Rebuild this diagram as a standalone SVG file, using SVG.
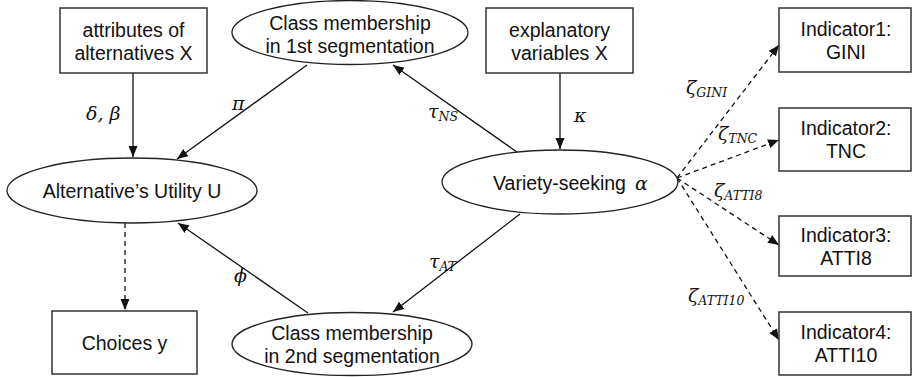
<svg xmlns="http://www.w3.org/2000/svg" width="912" height="377" viewBox="0 0 912 377">
<defs>
<marker id="arr" markerUnits="userSpaceOnUse" markerWidth="12" markerHeight="10" refX="11" refY="4.5" orient="auto">
<path d="M0,0 L11,4.5 L0,9 z" fill="#111" stroke="none"/>
</marker>
</defs>
<style>
.box{fill:#fff;stroke:#333;stroke-width:1.5}
.ell{fill:#fff;stroke:#222;stroke-width:1.3}
.lbl{font-family:"Liberation Sans",Arial,Helvetica,sans-serif;font-size:19.5px;fill:#111;text-anchor:middle}
.math{font-family:"DejaVu Serif","Liberation Serif",serif;font-style:italic;font-size:19px;fill:#111}
.sub{font-size:12.5px}
.edge{fill:none;stroke:#111;stroke-width:1.3;marker-end:url(#arr)}
.dash{stroke-dasharray:5,4}
</style>
<rect width="912" height="377" fill="#fff"/>

<g id="connectors">
<path class="edge" d="M133,73 L133,157"/>
<path class="edge" d="M307,65 L177,159"/>
<path class="edge" d="M517,152 L393,65"/>
<path class="edge" d="M560,73 L560,149"/>
<path class="edge" d="M520,214 L393,312"/>
<path class="edge" d="M308,313 L178,223"/>
<path class="edge dash" d="M125,223 L125,310"/>
<path class="edge dash" d="M677,178 L779,45"/>
<path class="edge dash" d="M677,178 L779,140"/>
<path class="edge dash" d="M677,178 L779,245"/>
<path class="edge dash" d="M677,178 L779,340"/>
</g>

<g id="edge-labels">
<text class="math" x="86" y="120">δ, β</text>
<text class="math" x="232" y="110">π</text>
<text class="math" x="428" y="118">τ<tspan class="sub" dy="3">NS</tspan></text>
<text class="math" x="574" y="122">κ</text>
<text class="math" x="234" y="282">ϕ</text>
<text class="math" x="429" y="268">τ<tspan class="sub" dy="3">AT</tspan></text>
<text class="math" x="686" y="94">ζ<tspan class="sub" dy="3">GINI</tspan></text>
<text class="math" x="718" y="140">ζ<tspan class="sub" dy="3">TNC</tspan></text>
<text class="math" x="714" y="197">ζ<tspan class="sub" dy="3">ATTI8</tspan></text>
<text class="math" x="688" y="302">ζ<tspan class="sub" dy="3">ATTI10</tspan></text>
</g>

<g id="attributes">
<rect class="box" x="60" y="8" width="147" height="65"/>
<text class="lbl" x="133.5" y="37">attributes of</text>
<text class="lbl" x="133.5" y="60">alternatives X</text>
</g>

<g id="class1">
<ellipse class="ell" cx="350" cy="32.5" rx="118" ry="32"/>
<text class="lbl" x="350" y="30">Class membership</text>
<text class="lbl" x="350" y="53">in 1st segmentation</text>
</g>

<g id="explanatory">
<rect class="box" x="486" y="8" width="147" height="65"/>
<text class="lbl" x="559.5" y="37">explanatory</text>
<text class="lbl" x="559.5" y="60">variables X</text>
</g>

<g id="utility">
<ellipse class="ell" cx="132" cy="190.5" rx="125" ry="32.5"/>
<text class="lbl" x="132" y="198">Alternative’s Utility U</text>
</g>

<g id="variety">
<ellipse class="ell" cx="560" cy="182" rx="118" ry="32"/>
<text class="lbl" x="493" y="190" style="text-anchor:start">Variety-seeking</text>
<text class="math" x="635" y="190">α</text>
</g>

<g id="choices">
<rect class="box" x="52" y="311" width="145" height="63"/>
<text class="lbl" x="124.5" y="350">Choices y</text>
</g>

<g id="class2">
<ellipse class="ell" cx="352" cy="344" rx="120" ry="31.5"/>
<text class="lbl" x="352" y="340">Class membership</text>
<text class="lbl" x="352" y="363">in 2nd segmentation</text>
</g>

<g id="indicator1">
<rect class="box" x="779" y="8" width="132" height="64"/>
<text class="lbl" x="846" y="36">Indicator1:</text>
<text class="lbl" x="846" y="59">GINI</text>
</g>

<g id="indicator2">
<rect class="box" x="779" y="108" width="132" height="63"/>
<text class="lbl" x="846" y="135">Indicator2:</text>
<text class="lbl" x="846" y="158">TNC</text>
</g>

<g id="indicator3">
<rect class="box" x="779" y="216" width="132" height="60"/>
<text class="lbl" x="846" y="242">Indicator3:</text>
<text class="lbl" x="846" y="265">ATTI8</text>
</g>

<g id="indicator4">
<rect class="box" x="779" y="312" width="132" height="63"/>
<text class="lbl" x="846" y="339">Indicator4:</text>
<text class="lbl" x="846" y="362">ATTI10</text>
</g>
</svg>
